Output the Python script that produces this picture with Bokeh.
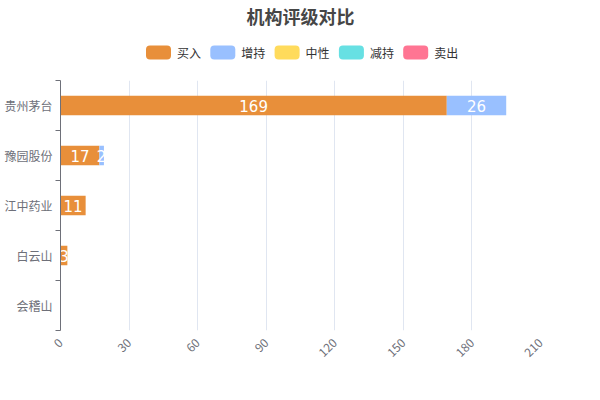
import math
from bokeh.plotting import figure
from bokeh.layouts import column
from bokeh.models import ColumnDataSource, Range1d, FixedTicker
from bokeh.embed import file_html
from bokeh.resources import INLINE
from bokeh.core.properties import value

title = "机构评级对比"
categories = ["贵州茅台", "豫园股份", "江中药业", "白云山", "会稽山"]
series_names = ["买入", "增持", "中性", "减持", "卖出"]
series_colors = ["#E88F3A", "#99C0FF", "#FFDB5C", "#67E0E3", "#FF7593"]
buy = [169, 17, 11, 3, 0]
overweight = [26, 2, 0, 0, 0]
neutral = [0, 0, 0, 0, 0]
underweight = [0, 0, 0, 0, 0]
sell = [0, 0, 0, 0, 0]
x_ticks = [0, 30, 60, 90, 120, 150, 180, 210]

series_values = [buy, overweight, neutral, underweight, sell]
FONT = "Noto Sans CJK SC"
NUM_FONT = "DejaVu Sans"
AXIS_COLOR = "#6E7079"
W = 584
HEADER_H = 80
FRAME_L, FRAME_R = 60, 540   # frame edges shared by both figures (column aligns them)

# ---------------- header (title + legend) ----------------
h = figure(width=W, height=HEADER_H, output_backend="svg", toolbar_location=None,
           x_range=Range1d(FRAME_L, FRAME_R), y_range=Range1d(HEADER_H, 0),
           x_axis_type=None, y_axis_type=None, min_border=0,
           min_border_left=FRAME_L, min_border_right=W - FRAME_R)
h.outline_line_color = None
h.xgrid.grid_line_color = None
h.ygrid.grid_line_color = None
h.background_fill_color = "white"
h.border_fill_color = "white"

h.text(x=[300], y=[15], text=[title], text_align="center", text_baseline="middle",
       text_font=value(FONT), text_font_size="18px", text_font_style="bold", text_color="#464646")

step = 64.3
box_left = [145.5 + step * i for i in range(len(series_names))]
legend_src = ColumnDataSource(dict(
    left=box_left, right=[b + 25 for b in box_left],
    top=[45] * len(series_names), bottom=[59] * len(series_names),
    tx=[b + 31 for b in box_left], ty=[52] * len(series_names),
    name=series_names, color=series_colors))
h.quad(left="left", right="right", top="top", bottom="bottom", fill_color="color",
       line_color=None, border_radius=4, source=legend_src)
h.text(x="tx", y="ty", text="name", text_align="left", text_baseline="middle",
       text_font=value(FONT), text_font_size="12px", text_color="#333333", source=legend_src)

# ---------------- main chart ----------------
n = len(categories)
ypos = [n - 0.5 - i for i in range(n)]
boundaries = [float(i) for i in range(n + 1)]

p = figure(width=W, height=384 - HEADER_H, output_backend="svg", toolbar_location=None,
           x_range=Range1d(0, x_ticks[-1]), y_range=Range1d(0, n),
           min_border_left=FRAME_L, min_border_right=W - FRAME_R, min_border_top=0, min_border_bottom=54)
p.outline_line_color = None
p.background_fill_color = "white"
p.border_fill_color = "white"

left = [0] * n
for name, color, vals in zip(series_names, series_colors, series_values):
    right = [l + v for l, v in zip(left, vals)]
    src = ColumnDataSource(dict(y=ypos, left=left, right=right))
    p.hbar(y="y", left="left", right="right", height=0.39, fill_color=color,
           line_color=None, source=src)
    mids, ys, texts = [], [], []
    for l, rr, v, yy in zip(left, right, vals, ypos):
        if v > 0:
            mids.append((l + rr) / 2)
            ys.append(yy)
            texts.append(str(v))
    if texts:
        lsrc = ColumnDataSource(dict(x=mids, y=ys, t=texts))
        p.text(x="x", y="y", text="t", source=lsrc, text_align="center", text_baseline="middle",
               text_color="white", text_font_size="15px", text_font=value(NUM_FONT))
    left = right

# x axis
p.xaxis.ticker = FixedTicker(ticks=x_ticks)
p.xaxis.axis_line_color = None
p.xaxis.major_tick_line_color = None
p.xaxis.minor_tick_line_color = None
p.xaxis.major_label_orientation = math.pi / 4
p.xaxis.major_label_text_font = FONT
p.xaxis.major_label_text_font_size = "12px"
p.xaxis.major_label_text_color = AXIS_COLOR
p.xaxis.major_label_standoff = 4
p.xgrid.ticker = FixedTicker(ticks=x_ticks)
p.xgrid.grid_line_color = "#E0E6F1"
p.ygrid.grid_line_color = None

# y axis
p.yaxis.ticker = FixedTicker(ticks=ypos, minor_ticks=boundaries)
p.yaxis.major_label_overrides = {yy: c for yy, c in zip(ypos, categories)}
p.yaxis.axis_line_color = AXIS_COLOR
p.yaxis.major_tick_line_color = None
p.yaxis.major_tick_out = 5
p.yaxis.major_tick_in = 0
p.yaxis.minor_tick_line_color = AXIS_COLOR
p.yaxis.minor_tick_out = 5
p.yaxis.minor_tick_in = 0
p.yaxis.major_label_standoff = 3
p.yaxis.major_label_text_font = FONT
p.yaxis.major_label_text_font_size = "12px"
p.yaxis.major_label_text_color = AXIS_COLOR

layout = column(h, p, spacing=0)
open("out.html", "w").write(file_html(layout, INLINE))
